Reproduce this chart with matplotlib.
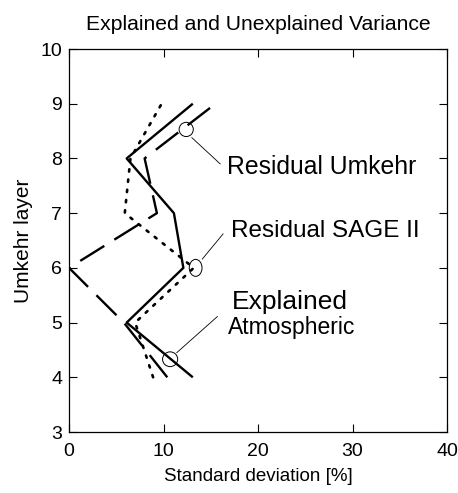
import matplotlib
matplotlib.use("Agg")
import matplotlib.pyplot as plt
from matplotlib.patches import Ellipse

plt.rcParams['font.family'] = ['Liberation Sans', 'DejaVu Sans']

# Umkehr layers and standard deviations [%] for each curve
layers = [4, 5, 6, 7, 8, 9]
explained_atm = [13.1, 6.1, 12.1, 11.1, 6.1, 13.1]
resid_umkehr = [10.4, 5.8, 0.0, 9.3, 8.0, 15.5]
resid_sage = [8.9, 7.0, 13.2, 5.9, 6.5, 9.8]

fig = plt.figure(figsize=(4.58, 4.93), dpi=100)
ax = fig.add_axes([0.1507, 0.1237, 0.8253, 0.7769])

ax.plot(explained_atm, layers, color='black', lw=1.7, solid_capstyle='butt')
ax.plot(resid_umkehr, layers, color='black', lw=1.7, linestyle=(0, (12, 5)))
ax.plot(resid_sage, layers, color='black', lw=1.9, linestyle=(0, (0.9, 3.0)),
        dash_capstyle='round')

# circles that tag each curve, with leader lines to the labels
tags = [
    ((12.4, 8.53), 1.5, 0.26, (13.0, 8.38), (16.0, 7.90)),
    ((13.4, 6.00), 1.35, 0.31, (14.1, 6.16), (16.3, 6.62)),
    ((10.7, 4.33), 1.6, 0.27, (11.4, 4.45), (15.7, 5.11)),
]
for center, w, h, p0, p1 in tags:
    ax.add_patch(Ellipse(center, w, h, fill=False, lw=0.7, color='black'))
    ax.plot([p0[0], p1[0]], [p0[1], p1[1]], color='black', lw=0.6)

ax.text(16.7, 7.85, 'Residual Umkehr', fontsize=17.8, va='center', ha='left')
ax.text(17.1, 6.67, 'Residual SAGE II', fontsize=17.5, va='center', ha='left')
ax.text(17.2, 5.38, 'Explained', fontsize=19, va='center', ha='left')
ax.text(16.8, 4.91, 'Atmospheric', fontsize=16.5, va='center', ha='left')

ax.set_xlim(0, 40)
ax.set_ylim(3, 10)
ax.set_xticks([0, 10, 20, 30, 40])
ax.set_yticks(range(3, 11))
ax.tick_params(direction='in', length=6, width=0.8, top=True, right=True,
               labelsize=14)
ax.tick_params(axis='x', pad=8)
ax.tick_params(axis='y', pad=5)
for s in ax.spines.values():
    s.set_linewidth(0.9)

ax.set_xlabel('Standard deviation [%]', fontsize=13.5, labelpad=6)
ax.set_ylabel('Umkehr layer', fontsize=15, labelpad=5)
ax.set_title('Explained and Unexplained Variance', fontsize=15.2, pad=14)

fig.savefig('out.png', dpi=100)
